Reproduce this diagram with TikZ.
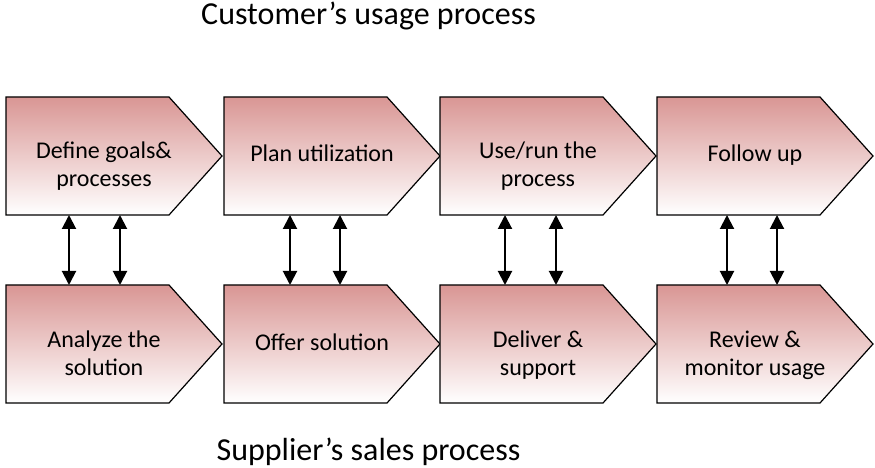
\documentclass[tikz,border=0pt]{standalone}
\usepackage{fontspec}
\setmainfont{Carlito}
\usetikzlibrary{arrows.meta}
\definecolor{boxred}{RGB}{217,150,148}

\tikzset{
  procbox/.style={draw=black,line width=1.2pt,top color=boxred,bottom color=white},
  proctext/.style={anchor=north,align=center,inner sep=0pt,font=\fontsize{24}{28}\selectfont,execute at begin node=\strut},
  heading/.style={anchor=base,font=\fontsize{32}{38}\selectfont},
  link/.style={line width=2pt,{Triangle[width=14pt,length=14pt]}-{Triangle[width=14pt,length=14pt]}}
}

\begin{document}
\begin{tikzpicture}[x=1pt,y=1pt]
\useasboundingbox (0,0) rectangle (875,468);

\node[heading] (customer) at (368.5,443) {Customer’s usage process};
\node[heading] (supplier) at (368.5,7) {Supplier’s sales process};

\foreach \i/\x/\ax/\bx/\up/\low in {
  1/6/69/120/{Define goals\&\\processes}/{Analyze the\\solution},
  2/224/290/340/{Plan utilization}/{Offer solution},
  3/440/505/556/{Use/run the\\process}/{Deliver \&\\support},
  4/657/727/777/{Follow up}/{Review \&\\monitor usage}}{
  \draw[procbox] (\x,253) -- ++(163,0) -- ++(53,59) -- ++(-53,59) -- ++(-163,0) -- cycle;
  \draw[procbox] (\x,65) -- ++(163,0) -- ++(53,59) -- ++(-53,59) -- ++(-163,0) -- cycle;
  \node[proctext] (use\i) at (\x+98,326.6) {\up};
  \node[proctext] (sale\i) at (\x+98,137.6) {\low};
  \coordinate (usea\i) at (\ax,253);
  \coordinate (useb\i) at (\bx,253);
  \coordinate (salea\i) at (\ax,183);
  \coordinate (saleb\i) at (\bx,183);
  \draw[link] (usea\i) -- (salea\i);
  \draw[link] (useb\i) -- (saleb\i);
}

\end{tikzpicture}
\end{document}
